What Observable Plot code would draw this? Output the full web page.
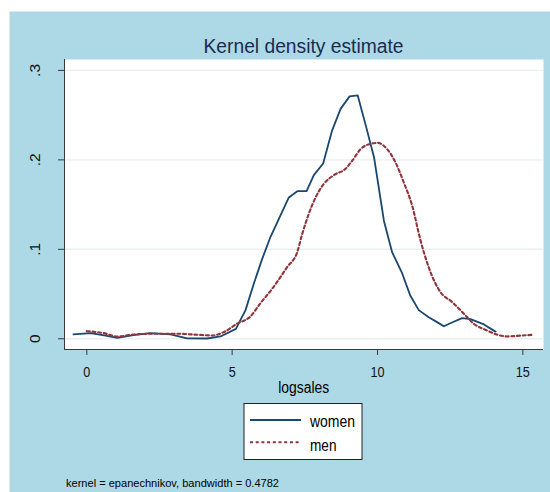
<!DOCTYPE html>
<html>
<head>
<meta charset="utf-8">
<script src="https://cdn.jsdelivr.net/npm/d3@7"></script>
<script src="https://cdn.jsdelivr.net/npm/@observablehq/plot@0.6"></script>
<style>
  html, body { margin: 0; padding: 0; background: #ffffff; }
  body { position: relative; width: 550px; height: 492px; overflow: hidden; font-family: "Liberation Sans", Arial, Helvetica, sans-serif; }
  #panel { position: absolute; left: 9px; top: 11px; width: 541px; height: 481px; background: #add8e6; border-top: 1px solid #dfe7ea; border-left: 1px solid #dfe7ea; box-sizing: border-box; }
  #chart { position: absolute; left: 9px; top: 12px; }
  #chart svg { overflow: visible; }
</style>
</head>
<body>
<div id="panel"></div>
<div id="chart"></div>
<script>
// ---------------- data ----------------
const xTicks = [0, 5, 10, 15];
const yTicks = [0, 0.1, 0.2, 0.3];
const yTickLabels = ["0", ".1", ".2", ".3"];

const womenX = [-0.46, 0.13, 0.6, 1.05, 1.6, 2.19, 2.88, 3.45, 4.14, 4.6, 5.13, 5.46, 5.75, 6.03, 6.32, 6.95, 7.24, 7.56, 7.81, 8.13, 8.44, 8.73, 9.04, 9.32, 9.6, 9.88, 10.22, 10.5, 10.85, 11.13, 11.42, 11.76, 12.05, 12.28, 12.62, 12.91, 13.2, 13.66, 14.06];
const womenD = [0.005, 0.0063, 0.0037, 0.001, 0.004, 0.0063, 0.0048, 0.0004, 0.0003, 0.0026, 0.011, 0.032, 0.062, 0.089, 0.114, 0.158, 0.165, 0.165, 0.183, 0.196, 0.233, 0.257, 0.271, 0.272, 0.238, 0.203, 0.132, 0.097, 0.073, 0.048, 0.032, 0.024, 0.0186, 0.014, 0.019, 0.023, 0.022, 0.016, 0.008];

const menX = [0.0, 0.58, 1.05, 1.62, 2.3, 3.11, 3.8, 4.31, 4.71, 5.17, 5.63, 5.98, 6.38, 6.89, 7.24, 7.41, 7.64, 7.87, 8.15, 8.5, 8.9, 9.13, 9.42, 9.76, 10.0, 10.33, 10.62, 10.9, 11.19, 11.48, 11.76, 12.17, 12.57, 12.97, 13.31, 13.77, 14.12, 14.46, 14.98, 15.38];
const menD = [0.0085, 0.0063, 0.0026, 0.0048, 0.0056, 0.0056, 0.0045, 0.0037, 0.0074, 0.0168, 0.025, 0.040, 0.056, 0.080, 0.097, 0.117, 0.140, 0.158, 0.173, 0.183, 0.190, 0.199, 0.212, 0.218, 0.219, 0.212, 0.197, 0.175, 0.149, 0.110, 0.080, 0.052, 0.041, 0.028, 0.0168, 0.0093, 0.0045, 0.0026, 0.0037, 0.0045];

const seriesNames = ["women", "men"];
const titleText = "Kernel density estimate";
const xLabelText = "logsales";
const noteText = "kernel = epanechnikov, bandwidth = 0.4782";

// ---------------- build ----------------
const women = womenX.map((x, i) => ({x, d: womenD[i], s: seriesNames[0]}));
const men = menX.map((x, i) => ({x, d: menD[i], s: seriesNames[1]}));

const navy = "#1a476f";
const maroon = "#90353b";
const xDomain = [-0.767, 15.71];
const yDomain = [-0.012, 0.3122];

const plot = Plot.plot({
  width: 541,
  height: 388,
  marginLeft: 55,
  marginRight: 7,
  marginTop: 47,
  marginBottom: 51,
  style: {background: "transparent", fontFamily: "'Liberation Sans', Arial, sans-serif", fontSize: "14.7px", color: "#111"},
  x: {domain: xDomain, ticks: xTicks, tickSize: 6, tickPadding: 11, tickFormat: d => String(d), label: null},
  y: {domain: yDomain, ticks: yTicks, tickSize: 6, tickPadding: 19, tickRotate: -90, tickFormat: (d) => yTickLabels[yTicks.indexOf(d)], label: null},
  marks: [
    Plot.frame({fill: "white", stroke: "none"}),
    Plot.ruleY(yTicks, {stroke: "#e8f0f2", strokeWidth: 1.4}),
    Plot.line(women, {x: "x", y: "d", stroke: navy, strokeWidth: 1.8, strokeLinejoin: "round"}),
    Plot.line(men, {x: "x", y: "d", stroke: maroon, strokeWidth: 2.1, strokeDasharray: "3,2.7", curve: "monotone-x"}),
    Plot.ruleX([xDomain[0]], {stroke: "#3a3a3a", strokeWidth: 1}),
    Plot.ruleY([yDomain[0]], {stroke: "#3a3a3a", strokeWidth: 1})
  ]
});
document.getElementById("chart").append(plot);

// axis styling
plot.querySelectorAll('[aria-label="x-axis tick"], [aria-label="y-axis tick"]').forEach(g => g.setAttribute("stroke", "#3a3a3a"));
plot.querySelectorAll('[aria-label="x-axis tick label"] text').forEach(t => {
  const w = t.getComputedTextLength();
  t.setAttribute("textLength", w * 0.86);
  t.setAttribute("lengthAdjust", "spacingAndGlyphs");
});
const yl = plot.querySelector('[aria-label="y-axis tick label"]');
if (yl) yl.setAttribute("font-size", "15.5");

// ---------------- overlay texts and legend ----------------
const ov = d3.select("body").append("svg")
  .attr("width", 550).attr("height", 492)
  .style("position", "absolute").style("left", "0px").style("top", "0px")
  .style("pointer-events", "none")
  .style("font-family", "'Liberation Sans', Arial, sans-serif");

function txt(g, s, {x, y, size, anchor = "start", len = null, fill = "#000"}) {
  const t = g.append("text").attr("x", x).attr("y", y).attr("font-size", size)
    .attr("text-anchor", anchor).attr("fill", fill).text(s);
  if (len) t.attr("textLength", len).attr("lengthAdjust", "spacingAndGlyphs");
  return t;
}

// title
txt(ov, titleText, {x: 303.5, y: 52.6, size: 20, anchor: "middle", len: 200, fill: "#1c2b50"});
// x axis label
txt(ov, xLabelText, {x: 303.7, y: 393.3, size: 16, anchor: "middle", len: 51});

// legend
const lg = ov.append("g");
lg.append("rect").attr("x", 244).attr("y", 403.5).attr("width", 118).attr("height", 56)
  .attr("fill", "#fff").attr("stroke", "#222").attr("stroke-width", 1);
lg.append("line").attr("x1", 250).attr("x2", 301).attr("y1", 420).attr("y2", 420)
  .attr("stroke", navy).attr("stroke-width", 1.8);
lg.append("line").attr("x1", 250).attr("x2", 301).attr("y1", 442.3).attr("y2", 442.3)
  .attr("stroke", maroon).attr("stroke-width", 2.1).attr("stroke-dasharray", "3,2.7");
txt(lg, seriesNames[0], {x: 310, y: 427.3, size: 17, len: 45});
txt(lg, seriesNames[1], {x: 310, y: 450.7, size: 17, len: 26.5});

// note
txt(ov, noteText, {x: 66, y: 487, size: 11.5, len: 213});
</script>
</body>
</html>
